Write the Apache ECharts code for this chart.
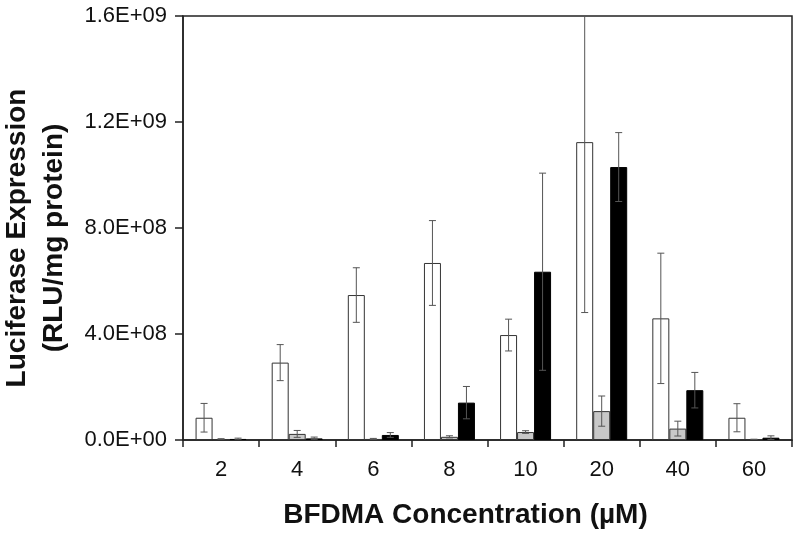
<!DOCTYPE html>
<html>
<head>
<meta charset="utf-8">
<script src="https://cdn.jsdelivr.net/npm/echarts@6/dist/echarts.min.js"></script>
<style>
  html, body { margin: 0; padding: 0; background: #fff; }
  #chart { width: 800px; height: 542px; }
</style>
</head>
<body>
<div id="chart"></div>
<script>
  // categories (BFDMA concentration, uM)
  var categories = ['2', '4', '6', '8', '10', '20', '40', '60']
  // bar heights
  var whiteVals = [8.4e7, 2.92e8, 5.47e8, 6.68e8, 3.96e8, 1.124e9, 4.59e8, 8.4e7]
  var grayVals = [3e6, 2.3e7, 4e6, 1.2e7, 3.0e7, 1.09e8, 4.3e7, 2e6]
  var blackVals = [4e6, 6e6, 1.9e7, 1.41e8, 6.35e8, 1.03e9, 1.88e8, 8.7e6]
  // error bar half widths
  var whiteErr = [5.4e7, 6.8e7, 1.03e8, 1.6e8, 6.0e7, 6.43e8, 2.46e8, 5.3e7]
  var grayErr = [2e6, 1.3e7, 2e6, 4e6, 5e6, 5.7e7, 2.8e7, 1e6]
  var blackErr = [3e6, 5e6, 9e6, 6.1e7, 3.72e8, 1.3e8, 6.7e7, 7e6]

  var BAR_W = 17

  // 1.6E+09 style labels
  function sciLabel(v) {
    if (v === 0) return '0.0E+00'
    var e = Math.floor(Math.log10(v) + 1e-9)
    var m = v / Math.pow(10, e)
    return m.toFixed(1) + 'E+' + (e < 10 ? '0' + e : e)
  }

  function errSeries(vals, errs, slot) {
    var data = vals.map(function (v, i) { return [i, v, errs[i]] })
    return {
      type: 'custom',
      clip: true,
      z: 5,
      data: data,
      renderItem: function (params, api) {
        var i = api.value(0)
        var v = api.value(1)
        var e = api.value(2)
        var hi = api.coord([i, v + e])
        var lo = api.coord([i, v - e])
        var x = hi[0] + slot * BAR_W
        var cap = 3.5
        var st = { stroke: '#555', lineWidth: 1 }
        return {
          type: 'group',
          children: [
            { type: 'line', shape: { x1: x, y1: hi[1], x2: x, y2: lo[1] }, style: st },
            { type: 'line', shape: { x1: x - cap, y1: hi[1], x2: x + cap, y2: hi[1] }, style: st },
            { type: 'line', shape: { x1: x - cap, y1: lo[1], x2: x + cap, y2: lo[1] }, style: st }
          ]
        }
      }
    }
  }

  var myChart = echarts.init(document.getElementById('chart'))
  var font = 'Liberation Sans, Arial, sans-serif'

  var option = {
    animation: false,
    grid: {
      left: 183,
      right: 8,
      top: 16,
      bottom: 102,
      outerBoundsMode: 'none',
      show: true,
      borderColor: '#222',
      borderWidth: 1.5
    },
    xAxis: {
      type: 'category',
      data: categories,
      axisLine: { lineStyle: { color: '#222', width: 1.5 } },
      axisTick: { show: true, inside: false, length: 7, lineStyle: { color: '#222', width: 1.5 } },
      axisLabel: { color: '#111', fontSize: 22, fontFamily: font, margin: 19 },
      name: 'BFDMA Concentration (\u00b5M)',
      nameLocation: 'middle',
      nameGap: 61,
      nameTextStyle: { color: '#111', fontSize: 28, fontWeight: 'bold', fontFamily: font, padding: [0, 44, 0, 0] }
    },
    yAxis: {
      type: 'value',
      min: 0,
      max: 1.6e9,
      interval: 4e8,
      splitLine: { show: false },
      axisLine: { show: true, lineStyle: { color: '#222', width: 1.5 } },
      axisTick: { show: true, length: 8, lineStyle: { color: '#222', width: 1.5 } },
      axisLabel: {
        color: '#111', fontSize: 22, fontFamily: font, margin: 16,
        formatter: function (v) { return sciLabel(v) }
      },
      name: 'Luciferase Expression\n(RLU/mg protein)',
      nameLocation: 'middle',
      nameGap: 110,
      nameTextStyle: { color: '#111', fontSize: 28, fontWeight: 'bold', fontFamily: font, lineHeight: 37, padding: [0, 20, 0, 0] }
    },
    series: [
      {
        type: 'bar',
        data: whiteVals,
        barWidth: BAR_W,
        barGap: '0%',
        itemStyle: { color: '#fff', borderColor: '#333', borderWidth: 1 }
      },
      {
        type: 'bar',
        data: grayVals,
        barWidth: BAR_W,
        barGap: '0%',
        itemStyle: { color: '#c8c8c8', borderColor: '#333', borderWidth: 1 }
      },
      {
        type: 'bar',
        data: blackVals,
        barWidth: BAR_W,
        barGap: '0%',
        itemStyle: { color: '#000', borderColor: '#000', borderWidth: 1 }
      },
      errSeries(whiteVals, whiteErr, -1),
      errSeries(grayVals, grayErr, 0),
      errSeries(blackVals, blackErr, 1)
    ]
  }

  myChart.setOption(option)
</script>
</body>
</html>
